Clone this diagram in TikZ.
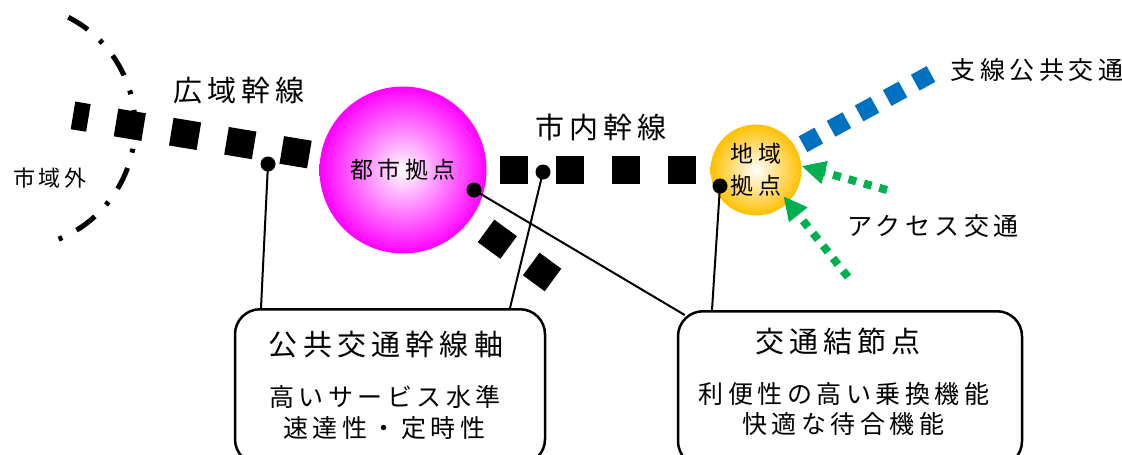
\documentclass[tikz,border=0pt]{standalone}
\usepackage{fontspec}
\setmainfont{Noto Sans CJK JP}[LetterSpace=18]
\usetikzlibrary{arrows.meta}
\definecolor{feederblue}{RGB}{0,112,192}
\definecolor{accessgreen}{RGB}{0,176,80}
\definecolor{hubmagenta}{RGB}{255,0,255}
\definecolor{hubyellow}{RGB}{255,192,0}

\begin{document}
\begin{tikzpicture}[x=1pt,y=-1pt,
  trunk/.style={line width=28pt, dash pattern=on 28pt off 28pt},
  feeder/.style={line width=18pt, feederblue, dash pattern=on 18pt off 14pt},
  access/.style={line width=8pt, accessgreen, dash pattern=on 8pt off 8pt,
    -{Triangle[length=24pt,width=22pt]}},
  knot/.style={circle, fill=black, inner sep=0pt, minimum size=15pt},
  leader/.style={line width=2pt},
  panel/.style={draw, line width=2.5pt, rounded corners=25pt, anchor=north,
    minimum height=155pt},
  bigtext/.style={font=\fontsize{29pt}{34pt}\selectfont},
  midtext/.style={font=\fontsize{25pt}{30pt}\selectfont},
  smalltext/.style={font=\fontsize{22pt}{26pt}\selectfont}]
\useasboundingbox (0,0) rectangle (1122,455);

% boundary of the city area
\draw[line width=5pt, dash pattern=on 23pt off 16pt on 4pt off 16pt]
  plot[domain=-63:69, samples=80] ({13+122*cos(\x)}, {126+122*sin(\x)});

% centres of the two hubs
\coordinate (cityc) at (403,170);
\coordinate (regc) at (756,170);
\coordinate (wideW) at (73,115.4);
\coordinate (branchE) at (553,280);
\coordinate (feederE) at (931,74);

% draw trunk lines
\draw[trunk, dash phase=12.4pt] (wideW) -- (cityc);
\draw[trunk, dash phase=15pt] (cityc) -- (regc);
\draw[trunk, dash phase=9pt] (cityc) -- (branchE);
\draw[feeder, dash phase=10.4pt] (regc) -- (feederE);

% draw hubs
\node[circle, minimum size=167pt, inner sep=0pt, inner color=white,
  outer color=hubmagenta, font=\fontsize{23pt}{28pt}\selectfont] (city) at (cityc) {都市拠点};
\node[circle, minimum size=91pt, inner sep=0pt, inner color=white,
  outer color=hubyellow, align=center, font=\fontsize{23pt}{32pt}\selectfont] (reg) at (regc) {地域\\拠点};

% access arrows
\coordinate (acc1) at (887,190);
\coordinate (acc2) at (848,277);
\draw[access] (acc1) -- (reg.5);
\draw[access, shorten >=-8pt] (acc2) -- (reg.-45);

% labels of the lines
\node[bigtext] (widelbl) at (239,91) {広域幹線};
\node[bigtext] (innerlbl) at (601,127) {市内幹線};
\node[smalltext] (outlbl) at (50,178) {市域外};
\node[midtext] (feederlbl) at (1037,70) {支線公共交通};
\node[midtext] (accesslbl) at (933,226) {アクセス交通};

% boxes
\node[panel, minimum width=310pt] (axisbox) at (390,308) {};
\node[panel, minimum width=344pt] (hubbox) at (850,310) {};

\node[bigtext] (axistitle) at (386,345) {公共交通幹線軸};
\node[midtext] (axisline1) at (385,397) {高いサービス水準};
\node[midtext] (axisline2) at (384,428) {速達性・定時性};
\node[bigtext] (hubtitle) at (838,341) {交通結節点};
\node[midtext] (hubline1) at (844,394) {利便性の高い乗換機能};
\node[midtext] (hubline2) at (843,424) {快適な待合機能};

% draw knots and leaders
\node[knot] (k1) at (268,164) {};
\node[knot] (k2) at (543,172) {};
\node[knot] (k3) at (474,190) {};
\node[knot] (k4) at (720,186) {};
\draw[leader] (k1.center) -- ([xshift=-129pt]axisbox.north);
\draw[leader] (k2.center) -- ([xshift=120pt]axisbox.north);
\draw[leader] (k3.center) -- ([shift={(8pt,-5pt)}]hubbox.north west);
\draw[leader] (k4.center) -- ([xshift=-138pt]hubbox.north);
\end{tikzpicture}
\end{document}
